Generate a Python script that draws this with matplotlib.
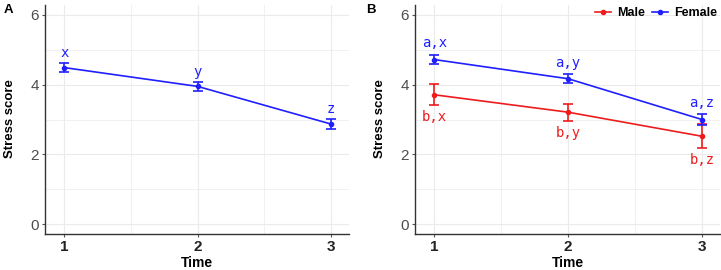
import numpy as np
import matplotlib.pyplot as plt
from matplotlib.ticker import MultipleLocator
from matplotlib.lines import Line2D

plt.rcParams["font.family"] = ["Liberation Sans", "DejaVu Sans"]

# data
time = [1, 2, 3]
overall_mean = [4.49, 3.95, 2.87]
overall_se = [0.13, 0.12, 0.14]
overall_letters = ["x", "y", "z"]

female_mean = [4.72, 4.17, 3.00]
female_se = [0.14, 0.13, 0.15]
female_letters = ["a,x", "a,y", "a,z"]

male_mean = [3.71, 3.21, 2.52]
male_se = [0.30, 0.24, 0.34]
male_letters = ["b,x", "b,y", "b,z"]

BLUE = "#1f1fff"
RED = "#ee1c1c"
GRID = "#ebebeb"
AX = "#333333"

W, H = 721, 270
fig = plt.figure(figsize=(W / 100, H / 100), dpi=100)


def style_axes(ax):
    ax.set_xlim(0.855, 3.135)
    ax.set_ylim(-0.27, 6.3)
    ax.set_xticks(time)
    ax.set_yticks([0, 2, 4, 6])
    ax.xaxis.set_minor_locator(MultipleLocator(0.5))
    ax.yaxis.set_minor_locator(MultipleLocator(1))
    ax.grid(which="major", color=GRID, lw=0.8)
    ax.grid(which="minor", color=GRID, lw=0.5)
    ax.set_axisbelow(True)
    for s in ["top", "right"]:
        ax.spines[s].set_visible(False)
    for s in ["left", "bottom"]:
        ax.spines[s].set_color(AX)
        ax.spines[s].set_linewidth(1.0)
    ax.tick_params(which="minor", length=0)
    ax.tick_params(which="major", length=2.5, color="#555555", width=0.8,
                   labelsize=11, pad=2)
    ax.tick_params(axis="y", labelcolor="#4d4d4d")
    for lab in ax.get_xticklabels():
        lab.set_fontweight("bold")
        lab.set_color("#222222")
    ax.set_xlabel("Time", fontsize=10, fontweight="bold", labelpad=1.5)
    ax.set_ylabel("Stress score", fontsize=9.5, fontweight="bold", labelpad=10)


def draw_series(ax, mean, se, color):
    ax.errorbar(time, mean, yerr=se, color=color, lw=1.2, marker="o",
                ms=3, capsize=3.3, capthick=1.2, elinewidth=1.2)


# panel A
axA = fig.add_axes([45 / W, 36.5 / H, 304 / W, 229 / H])
draw_series(axA, overall_mean, overall_se, BLUE)
for t, m, s, txt in zip(time, overall_mean, overall_se, overall_letters):
    axA.text(t, m + s + 0.3, txt, color=BLUE, ha="center", va="center",
             fontsize=10, family="DejaVu Sans Mono")
style_axes(axA)
fig.text(4 / W, 1 - 10 / H, "A", fontsize=9.5, fontweight="bold", va="center")

# panel B
axB = fig.add_axes([415 / W, 36.5 / H, 305 / W, 229 / H])
draw_series(axB, male_mean, male_se, RED)
draw_series(axB, female_mean, female_se, BLUE)
for t, m, s, txt in zip(time, female_mean, female_se, female_letters):
    axB.text(t, m + s + 0.33, txt, color=BLUE, ha="center", va="center",
             fontsize=10, family="DejaVu Sans Mono")
for t, m, s, txt in zip(time, male_mean, male_se, male_letters):
    axB.text(t, m - s - 0.35, txt, color=RED, ha="center", va="center",
             fontsize=10, family="DejaVu Sans Mono")
style_axes(axB)
handles = [Line2D([], [], color=RED, marker="o", ms=3, lw=1.2),
           Line2D([], [], color=BLUE, marker="o", ms=3, lw=1.2)]
leg = axB.legend(handles, ["Male", "Female"], loc="upper right",
                 bbox_to_anchor=(1.015, 1.02), ncol=2, frameon=False,
                 fontsize=9, handlelength=1.3, handletextpad=0.5,
                 columnspacing=0.5, borderaxespad=0.2)
for txt in leg.get_texts():
    txt.set_fontweight("bold")
fig.text(366 / W, 1 - 10 / H, "B", fontsize=9.5, fontweight="bold", va="center")

fig.savefig("out.png", dpi=100)
